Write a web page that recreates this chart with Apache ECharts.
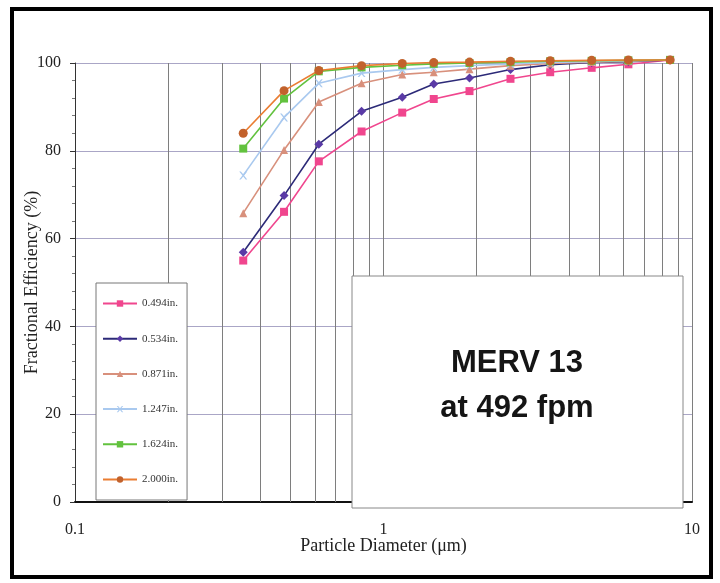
<!DOCTYPE html>
<html>
<head>
<meta charset="utf-8">
<script src="https://cdn.jsdelivr.net/npm/echarts@6/dist/echarts.min.js"></script>
<style>
html,body{margin:0;padding:0;background:#fff;}
#chart{width:720px;height:583px;}
</style>
</head>
<body>
<div id="chart"></div>
<script>
// Particle diameters (µm)
const diameters = [0.351, 0.476, 0.617, 0.849, 1.15, 1.455, 1.90, 2.58, 3.47, 4.73, 6.22, 8.49];
// Fractional efficiency (%) per filter depth
const eff0494 = [55.0, 66.1, 77.6, 84.4, 88.7, 91.8, 93.6, 96.4, 97.9, 98.9, 99.7, 100.7];
const eff0534 = [56.9, 69.8, 81.5, 89.0, 92.2, 95.2, 96.6, 98.5, 99.6, 100.1, 100.3, 100.7];
const eff0871 = [65.8, 80.2, 91.1, 95.4, 97.4, 97.9, 98.6, 99.4, 99.9, 100.2, 100.4, 100.7];
const eff1247 = [74.4, 87.6, 95.4, 97.7, 98.5, 99.0, 99.4, 99.8, 100.1, 100.3, 100.5, 100.7];
const eff1624 = [80.5, 91.9, 98.1, 99.0, 99.5, 99.8, 100.0, 100.2, 100.4, 100.5, 100.6, 100.7];
const eff2000 = [84.0, 93.7, 98.3, 99.4, 99.9, 100.1, 100.2, 100.4, 100.5, 100.6, 100.7, 100.7];
const seriesNames = ['0.494in.', '0.534in.', '0.871in.', '1.247in.', '1.624in.', '2.000in.'];
// Vertical log grid lines
const logGridValues = [0.2, 0.3, 0.4, 0.5, 0.6, 0.7, 0.8, 0.9, 2, 3, 4, 5, 6, 7, 8, 9];
const xTickLabels = {0.1: '0.1', 1: '1', 10: '10'};
const yTicks = [0, 20, 40, 60, 80, 100];
const boxText = 'MERV 13\nat 492 fpm';

const allData = [eff0494, eff0534, eff0871, eff1247, eff1624, eff2000];
const lineColors = ['#f0468e', '#2c2a78', '#d8907c', '#a9c9ef', '#62c23e', '#ea7d32'];
const markerColors = ['#f0468e', '#5a3aa6', '#d8907c', '#a9c9ef', '#62c23e', '#c2622c'];
const xPath = 'path://M0,0 L2,0 L5,3.5 L8,0 L10,0 L6,5 L10,10 L8,10 L5,6.5 L2,10 L0,10 L4,5 Z';
const symbols = ['rect', 'diamond', 'triangle', xPath, 'rect', 'circle'];
const symbolSizes = [8, 9, 8, 8, 8, 9];

const series = allData.map((vals, i) => ({
  name: seriesNames[i],
  type: 'line',
  data: diameters.map((d, j) => [d, vals[j]]),
  symbol: symbols[i],
  symbolSize: symbolSizes[i],
  showSymbol: true,
  clip: false,
  lineStyle: {color: lineColors[i], width: 1.6},
  itemStyle: {color: markerColors[i]},
  z: 5 + i
}));

series.unshift({
  name: '_grid',
  type: 'line',
  data: [],
  silent: true,
  markLine: {
    silent: true,
    symbol: 'none',
    label: {show: false},
    lineStyle: {color: '#7e7e7e', width: 1, type: 'solid'},
    data: logGridValues.map(v => ({xAxis: v}))
  },
  z: 1
});

const chart = echarts.init(document.getElementById('chart'));
chart.setOption({
  animation: false,
  backgroundColor: '#ffffff',
  grid: {left: 75, right: 28, top: 63, bottom: 81, containLabel: false},
  xAxis: {
    type: 'log',
    logBase: 10,
    min: 0.1,
    max: 10,
    name: 'Particle Diameter (μm)',
    nameLocation: 'middle',
    nameGap: 35,
    nameMoveOverlap: false,
    nameTextStyle: {fontFamily: 'Liberation Serif', fontSize: 18, color: '#222'},
    axisLine: {lineStyle: {color: '#111', width: 2}},
    axisTick: {show: false},
    axisLabel: {
      fontFamily: 'Liberation Serif', fontSize: 16, color: '#222', margin: 20,
      formatter: v => xTickLabels[v] !== undefined ? xTickLabels[v] : String(v)
    },
    splitLine: {show: true, lineStyle: {color: '#7e7e7e', width: 1}}
  },
  yAxis: {
    type: 'value',
    min: 0,
    max: 100,
    interval: 20,
    name: 'Fractional Efficiency (%)',
    nameLocation: 'middle',
    nameGap: 34,
    nameMoveOverlap: false,
    nameTextStyle: {fontFamily: 'Liberation Serif', fontSize: 18, color: '#222'},
    axisLine: {show: true, lineStyle: {color: '#333', width: 1}},
    axisTick: {show: true, length: 5, lineStyle: {color: '#333'}},
    minorTick: {show: true, splitNumber: 5, length: 3, lineStyle: {color: '#777'}},
    axisLabel: {
      fontFamily: 'Liberation Serif', fontSize: 16, color: '#222', margin: 14,
      formatter: v => yTicks.indexOf(v) >= 0 ? String(v) : ''
    },
    splitLine: {show: true, lineStyle: {color: '#aaa6c6', width: 1}}
  },
  legend: {
    data: seriesNames,
    orient: 'vertical',
    left: 96,
    top: 283,
    itemWidth: 34,
    itemHeight: 8,
    itemGap: 24.2,
    padding: [15, 9, 15, 6],
    backgroundColor: '#ffffff',
    borderColor: '#777',
    borderWidth: 1,
    borderRadius: 0,
    z: 20,
    textStyle: {fontFamily: 'Liberation Serif', fontSize: 11, color: '#333'},
    selectedMode: false
  },
  series: series,
  graphic: [
    {
      type: 'rect',
      z: 100,
      shape: {x: 352, y: 276, width: 331, height: 232},
      style: {fill: '#ffffff', stroke: '#888', lineWidth: 1}
    },
    {
      type: 'text',
      z: 101,
      x: 517,
      y: 386,
      style: {
        text: boxText,
        fontFamily: 'Liberation Sans',
        fontWeight: 'bold',
        fontSize: 31,
        lineHeight: 45,
        fill: '#151515',
        align: 'center',
        verticalAlign: 'middle'
      }
    },
    {
      type: 'rect',
      z: 102,
      shape: {x: 12, y: 9, width: 699, height: 568},
      style: {fill: 'none', stroke: '#000', lineWidth: 4}
    }
  ]
});
</script>
</body>
</html>
